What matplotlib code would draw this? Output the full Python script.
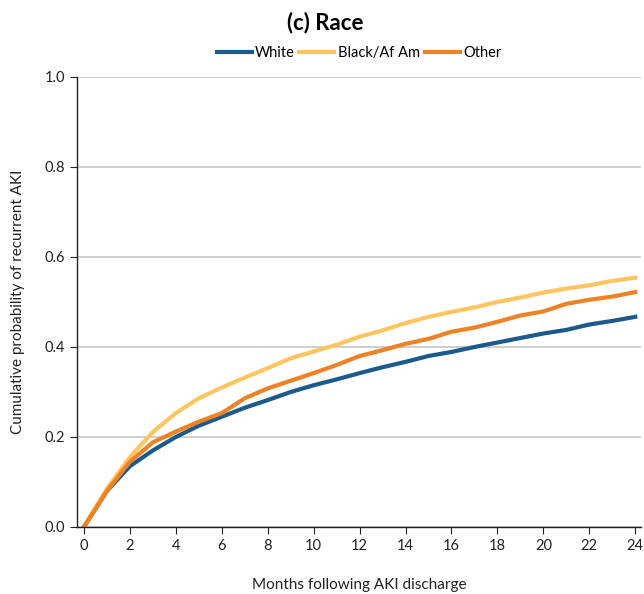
import numpy as np
import matplotlib.pyplot as plt

plt.rcParams['font.family'] = ['Lato', 'DejaVu Sans']

# Data
months = list(range(25))
white = [0, 0.08, 0.135, 0.17, 0.20, 0.225, 0.245, 0.265, 0.282, 0.30,
         0.315, 0.328, 0.342, 0.355, 0.367, 0.38, 0.389, 0.40, 0.41, 0.42,
         0.43, 0.438, 0.45, 0.458, 0.467]
black = [0, 0.085, 0.155, 0.211, 0.253, 0.286, 0.31, 0.332, 0.353, 0.375,
         0.39, 0.405, 0.423, 0.437, 0.453, 0.467, 0.478, 0.488, 0.50, 0.51,
         0.521, 0.53, 0.537, 0.547, 0.554]
other = [0, 0.08, 0.145, 0.188, 0.212, 0.234, 0.253, 0.286, 0.308, 0.325,
         0.342, 0.36, 0.38, 0.393, 0.407, 0.418, 0.434, 0.443, 0.456, 0.47,
         0.479, 0.496, 0.505, 0.512, 0.522]
xticks = list(range(0, 25, 2))
yticks = [0.0, 0.2, 0.4, 0.6, 0.8, 1.0]

fig = plt.figure(figsize=(6.44, 5.94), dpi=100)
ax = fig.add_axes([77 / 644, 67 / 594, 564 / 644, 450 / 594])

ax.plot(months, white, color='#1b5a8a', lw=3, label='White')
ax.plot(months, black, color='#ffc561', lw=3, label='Black/Af Am')
ax.plot(months, other, color='#ee8325', lw=3, label='Other')

ax.set_xlim(-0.3, 24.25)
ax.set_ylim(0, 1.0)
ax.set_xticks(xticks)
ax.set_yticks(yticks)
ax.set_yticklabels([f'{v:.1f}' for v in yticks])
ax.yaxis.grid(True, color='#c9c5c1', lw=1.2)
ax.set_axisbelow(True)
ax.spines['top'].set_visible(False)
ax.spines['right'].set_visible(False)
for s in ('left', 'bottom'):
    ax.spines[s].set_color('#222222')
    ax.spines[s].set_linewidth(1)
ax.tick_params(axis='both', labelsize=10.5, colors='#222222', length=5)

ax.set_xlabel('Months following AKI discharge', fontsize=11, color='#222222', labelpad=18)
ax.set_ylabel('Cumulative probability of recurrent AKI', fontsize=11, color='#222222', labelpad=14)

fig.text(0.505, 0.962, '(c) Race', ha='center', va='center', fontsize=16, fontweight='bold')
ax.legend(loc='center', frameon=False, ncol=3, fontsize=10.5, handlelength=2.4,
          handletextpad=0.25, columnspacing=0.3)
leg = ax.get_legend()
leg.set_bbox_to_anchor((359 / 644, 1 - 53 / 594), transform=fig.transFigure)

fig.savefig('out.png', dpi=100)
